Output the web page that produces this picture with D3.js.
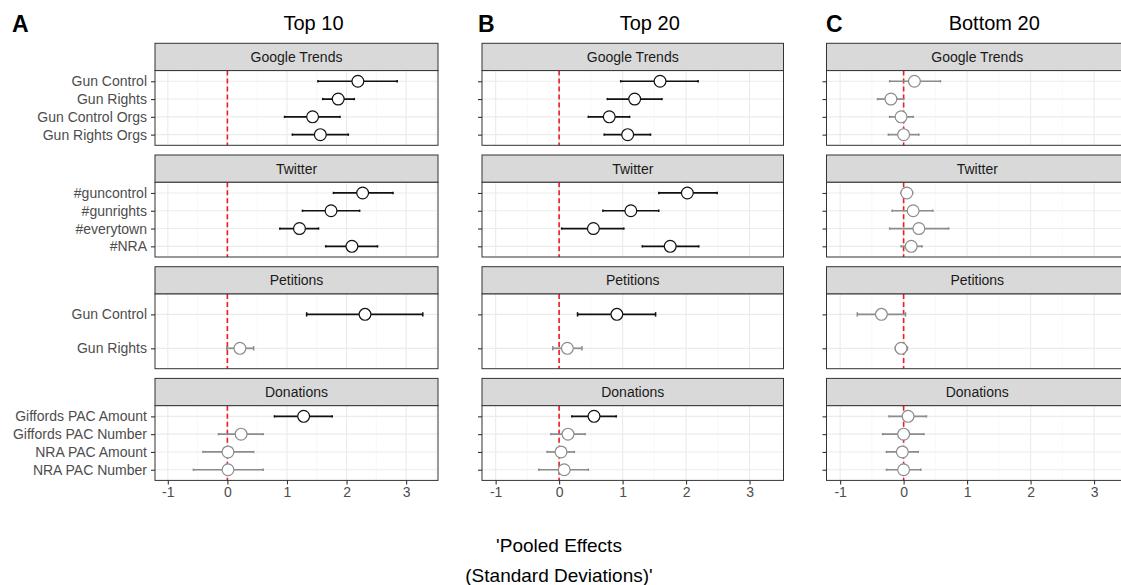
<!DOCTYPE html>
<html>
<head>
<meta charset="utf-8">
<script src="https://cdn.jsdelivr.net/npm/d3@7"></script>
<style>
  body { margin: 0; background: #fff; }
  svg { display: block; font-family: "Liberation Sans", Arial, Helvetica, sans-serif; }
</style>
</head>
<body>
<script>
// facets and their rows (top to bottom)
var facetNames = ['Google Trends', 'Twitter', 'Petitions', 'Donations'];
var googleItems = ['Gun Control', 'Gun Rights', 'Gun Control Orgs', 'Gun Rights Orgs'];
var twitterItems = ['#guncontrol', '#gunrights', '#everytown', '#NRA'];
var petitionItems = ['Gun Control', 'Gun Rights'];
var donationItems = ['Giffords PAC Amount', 'Giffords PAC Number', 'NRA PAC Amount', 'NRA PAC Number'];

var panelLetters = ['A', 'B', 'C'];
var panelTitles = ['Top 10', 'Top 20', 'Bottom 20'];
var xTicks = [-1, 0, 1, 2, 3];
var xMinor = [-0.5, 0.5, 1.5, 2.5, 3.5];

// values in the order google(4), twitter(4), petitions(2), donations(4)
var top10Est = [2.19, 1.86, 1.43, 1.56,  2.27, 1.74, 1.21, 2.09,  2.31, 0.21,  1.28, 0.23, 0.01, 0.01];
var top10Lo  = [1.52, 1.60, 0.96, 1.09,  1.78, 1.26, 0.88, 1.65,  1.33, -0.01, 0.79, -0.15, -0.41, -0.57];
var top10Hi  = [2.85, 2.13, 1.89, 2.03,  2.78, 2.22, 1.53, 2.52,  3.28, 0.44,  1.76, 0.60, 0.44, 0.60];

var top20Est = [1.59, 1.19, 0.79, 1.08,  2.02, 1.13, 0.54, 1.75,  0.91, 0.13,  0.55, 0.14, 0.03, 0.08];
var top20Lo  = [0.97, 0.76, 0.46, 0.71,  1.57, 0.69, 0.04, 1.31,  0.29, -0.10, 0.20, -0.13, -0.19, -0.32];
var top20Hi  = [2.19, 1.62, 1.11, 1.44,  2.49, 1.57, 1.02, 2.20,  1.52, 0.36,  0.90, 0.41, 0.24, 0.46];

var bottom20Est = [0.17, -0.20, -0.04, 0.00,  0.05, 0.15, 0.24, 0.12,  -0.35, -0.04,  0.07, 0.00, -0.02, 0.00];
var bottom20Lo  = [-0.22, -0.41, -0.22, -0.24,  -0.04, -0.18, -0.22, -0.04,  -0.73, -0.13,  -0.23, -0.33, -0.27, -0.27];
var bottom20Hi  = [0.58, 0.00, 0.15, 0.24,  0.14, 0.46, 0.71, 0.29,  0.03, 0.06,  0.36, 0.32, 0.23, 0.27];

var facetItems = [googleItems, twitterItems, petitionItems, donationItems];
var allEst = [top10Est, top20Est, bottom20Est];
var allLo = [top10Lo, top20Lo, bottom20Lo];
var allHi = [top10Hi, top20Hi, bottom20Hi];

var width = 1121, height = 585;
var panelLeft = [155, 482, 826.5];
var panelWidth = [283, 301.5, 301.5];
var letterX = [12, 478, 826];
var stripTop0 = 43.3, facetStep = 111.7, stripH = 27.3, panelH = 74.7;
var xDomain = [-1.215, 3.535];

var svg = d3.select('body').append('svg')
	.attr('width', width)
	.attr('height', height);

panelLetters.forEach(function(letter, p) {
	var left = panelLeft[p], w = panelWidth[p];
	var x = d3.scaleLinear().domain(xDomain).range([left, left + w]);
	var g = svg.append('g');

	g.append('text')
		.attr('x', letterX[p])
		.attr('y', 32)
		.attr('font-size', 23)
		.attr('font-weight', 'bold')
		.attr('fill', '#000')
		.text(letter);

	g.append('text')
		.attr('x', left + w / 2 + 17)
		.attr('y', 29.5)
		.attr('text-anchor', 'middle')
		.attr('font-size', 20)
		.attr('fill', '#000')
		.text(panelTitles[p]);

	var idx = 0;
	facetNames.forEach(function(name, f) {
		var items = facetItems[f];
		var sTop = stripTop0 + f * facetStep;
		var pTop = sTop + stripH;
		var y = d3.scalePoint().domain(items).range([pTop, pTop + panelH]).padding(0.6);
		var step = y.step();

		// strip
		g.append('rect')
			.attr('x', left).attr('y', sTop)
			.attr('width', w).attr('height', stripH)
			.attr('fill', '#d9d9d9')
			.attr('stroke', '#333').attr('stroke-width', 1);
		g.append('text')
			.attr('x', left + w / 2)
			.attr('y', sTop + stripH / 2 + 5)
			.attr('text-anchor', 'middle')
			.attr('font-size', 14)
			.attr('fill', '#1a1a1a')
			.text(name);

		// panel background + grid
		g.append('rect')
			.attr('x', left).attr('y', pTop)
			.attr('width', w).attr('height', panelH)
			.attr('fill', '#fff');
		g.selectAll(null).data(xMinor).enter().append('line')
			.attr('x1', function(d) { return x(d); }).attr('x2', function(d) { return x(d); })
			.attr('y1', pTop).attr('y2', pTop + panelH)
			.attr('stroke', '#f3f3f3').attr('stroke-width', 0.6);
		g.selectAll(null).data(xTicks).enter().append('line')
			.attr('x1', function(d) { return x(d); }).attr('x2', function(d) { return x(d); })
			.attr('y1', pTop).attr('y2', pTop + panelH)
			.attr('stroke', '#ebebeb').attr('stroke-width', 1.1);
		g.selectAll(null).data(items).enter().append('line')
			.attr('x1', left).attr('x2', left + w)
			.attr('y1', function(d) { return y(d); }).attr('y2', function(d) { return y(d); })
			.attr('stroke', '#ebebeb').attr('stroke-width', 1.1);

		// zero line
		g.append('line')
			.attr('x1', x(0)).attr('x2', x(0))
			.attr('y1', pTop).attr('y2', pTop + panelH)
			.attr('stroke', '#ee1c25').attr('stroke-width', 1.6)
			.attr('stroke-dasharray', '5,3');

		// estimates
		var rows = items.map(function(item, i) {
			var k = idx + i;
			return {item: item, est: allEst[p][k], lo: allLo[p][k], hi: allHi[p][k]};
		});
		idx += items.length;
		var col = function(d) { return (d.lo > 0 || d.hi < 0) ? '#111' : '#8c8c8c'; };
		var cap = step * 0.065;

		g.selectAll(null).data(rows).enter().append('line')
			.attr('x1', function(d) { return x(d.lo); }).attr('x2', function(d) { return x(d.hi); })
			.attr('y1', function(d) { return y(d.item); }).attr('y2', function(d) { return y(d.item); })
			.attr('stroke', col).attr('stroke-width', 1.7);
		['lo', 'hi'].forEach(function(end) {
			g.selectAll(null).data(rows).enter().append('line')
				.attr('x1', function(d) { return x(d[end]); }).attr('x2', function(d) { return x(d[end]); })
				.attr('y1', function(d) { return y(d.item) - cap; }).attr('y2', function(d) { return y(d.item) + cap; })
				.attr('stroke', col).attr('stroke-width', 1.5);
		});
		g.selectAll(null).data(rows).enter().append('circle')
			.attr('cx', function(d) { return x(d.est); })
			.attr('cy', function(d) { return y(d.item); })
			.attr('r', 5.9)
			.attr('fill', '#fff')
			.attr('stroke', col).attr('stroke-width', 1.2);

		// border
		g.append('rect')
			.attr('x', left).attr('y', pTop)
			.attr('width', w).attr('height', panelH)
			.attr('fill', 'none')
			.attr('stroke', '#333').attr('stroke-width', 1);

		// y axis
		var yAxis = g.append('g')
			.attr('transform', 'translate(' + left + ',0)')
			.call(d3.axisLeft(y).tickSize(4).tickPadding(4).tickFormat(p == 0 ? null : ''));
		yAxis.select('.domain').remove();
		yAxis.selectAll('line').attr('stroke', '#333').attr('stroke-width', 1.1);
		yAxis.selectAll('text')
			.attr('font-size', 14)
			.attr('font-family', null)
			.attr('fill', '#4d4d4d');

		// x axis on the last facet only
		if (f == facetNames.length - 1) {
			var xAxis = g.append('g')
				.attr('transform', 'translate(0,' + (pTop + panelH) + ')')
				.call(d3.axisBottom(x).tickValues(xTicks).tickSize(4).tickPadding(3).tickFormat(d3.format('d')));
			xAxis.select('.domain').remove();
			xAxis.selectAll('line').attr('stroke', '#333').attr('stroke-width', 1.1);
			xAxis.selectAll('text')
				.attr('font-size', 14)
				.attr('font-family', null)
				.attr('fill', '#4d4d4d')
				.text(function(d) { return d < 0 ? '-' + Math.abs(d) : d; });
		}
	});
});

// shared x axis title
var xTitle = svg.append('text')
	.attr('text-anchor', 'middle')
	.attr('font-size', 19)
	.attr('fill', '#000');
xTitle.append('tspan').attr('x', 559).attr('y', 552).text("'Pooled Effects");
xTitle.append('tspan').attr('x', 559).attr('y', 582).text("(Standard Deviations)'");
</script>
</body>
</html>
